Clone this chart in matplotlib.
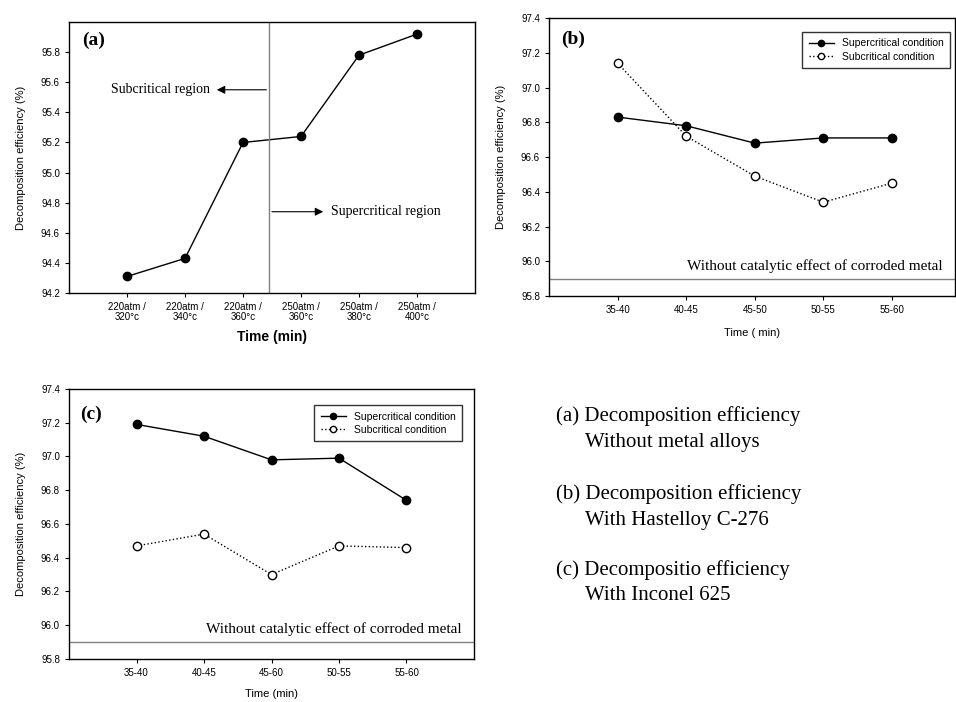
import numpy as np
import matplotlib
matplotlib.use('Agg')
import matplotlib.pyplot as plt

# ---- data ----
labels_a = ['220atm /\n320°c', '220atm /\n340°c', '220atm /\n360°c',
            '250atm /\n360°c', '250atm /\n380°c', '250atm /\n400°c']
eff_a = [94.31, 94.43, 95.20, 95.24, 95.78, 95.92]

labels_b = ['35-40', '40-45', '45-50', '50-55', '55-60']
super_b = [96.83, 96.78, 96.68, 96.71, 96.71]
sub_b = [97.14, 96.72, 96.49, 96.34, 96.45]

labels_c = ['35-40', '40-45', '45-60', '50-55', '55-60']
super_c = [97.19, 97.12, 96.98, 96.99, 96.74]
sub_c = [96.47, 96.54, 96.30, 96.47, 96.46]

baseline = 95.9

note_heads = ['(a) Decomposition efficiency',
              '(b) Decomposition efficiency',
              '(c) Decompositio efficiency']
note_subs = ['Without metal alloys', 'With Hastelloy C-276', 'With Inconel 625']

plt.rcParams['font.family'] = ['Liberation Sans', 'DejaVu Sans']
serif = 'Liberation Serif'

fig = plt.figure(figsize=(9.56, 7.02), dpi=100)

def style(ax):
    ax.tick_params(direction='out', length=3, width=0.8, labelsize=7, top=False, right=False)
    for s in ax.spines.values():
        s.set_linewidth(1.0)

#####################
# panel (a)
#####################
ax = fig.add_axes([0.0722, 0.5826, 0.4247, 0.386])
xa = np.arange(1, len(eff_a) + 1)
ax.plot(xa, eff_a, '-', color='black', lw=1, marker='o', ms=6, mfc='black')
ax.axvline(3.45, color='gray', lw=1)
ax.set_xlim(0, 7)
ax.set_ylim(94.2, 96.0)
ax.set_yticks(np.arange(94.2, 95.81, 0.2))
ax.set_yticklabels(['%.1f' % v for v in np.arange(94.2, 95.81, 0.2)])
ax.set_xticks(xa)
ax.set_xticklabels(labels_a, fontsize=7, linespacing=1.0)
ax.set_xlabel('Time (min)', fontsize=10, fontweight='bold', labelpad=6)
ax.set_ylabel('Decomposition efficiency (%)', fontsize=8, labelpad=11)
style(ax)
ax.text(0.23, 95.85, '(a)', family=serif, fontsize=14, fontweight='bold')
ax.annotate('', xy=(2.5, 95.55), xytext=(3.45, 95.55),
            arrowprops=dict(arrowstyle='-|>', color='black', lw=0.8, mutation_scale=12))
ax.text(2.43, 95.55, 'Subcritical region', family=serif, fontsize=10, ha='right', va='center')
ax.annotate('', xy=(4.43, 94.74), xytext=(3.45, 94.74),
            arrowprops=dict(arrowstyle='-|>', color='black', lw=0.8, mutation_scale=12))
ax.text(4.52, 94.74, 'Supercritical region', family=serif, fontsize=10, ha='left', va='center')

#####################
# panel (b) and (c)
#####################
def two_series(rect, labels, sup, sub, tag, tag_y, xmax, xlab, xpad, leg_anchor):
    ax = fig.add_axes(rect)
    x = np.arange(1, len(labels) + 1)
    ax.plot(x, sup, '-', color='black', lw=1, marker='o', ms=6, mfc='black',
            label='Supercritical condition')
    ax.plot(x, sub, ':', color='black', lw=1, marker='o', ms=6, mfc='white',
            label='Subcritical condition')
    ax.axhline(baseline, color='gray', lw=1)
    ax.text(0.97 * xmax, 95.935, 'Without catalytic effect of corroded metal',
            family=serif, fontsize=11, ha='right', va='bottom')
    ax.set_xlim(0, xmax)
    ax.set_ylim(95.8, 97.4)
    yt = np.arange(95.8, 97.41, 0.2)
    ax.set_yticks(yt)
    ax.set_yticklabels(['%.1f' % v for v in yt])
    ax.set_xticks(x)
    ax.set_xticklabels(labels)
    ax.set_xlabel(xlab, fontsize=8, labelpad=xpad)
    ax.set_ylabel('Decomposition efficiency (%)', fontsize=8, labelpad=11)
    style(ax)
    ax.text(0.17, tag_y, tag, family=serif, fontsize=14, fontweight='bold')
    leg = ax.legend(loc='upper right', fontsize=7.5, frameon=True, fancybox=False,
                    edgecolor='black', handlelength=2.4, markerscale=0.75,
                    borderpad=0.6, labelspacing=0.3, bbox_to_anchor=leg_anchor)
    leg.get_frame().set_linewidth(1.0)
    return ax

two_series([0.5743, 0.5783, 0.4247, 0.396], labels_b, super_b, sub_b, '(b)', 97.25,
           5.92, 'Time ( min)', 9, (1.0, 0.968))
two_series([0.0722, 0.0613, 0.4236, 0.3846], labels_c, super_c, sub_c, '(c)', 97.22,
           6.0, 'Time (min)', 8, (0.983, 0.959))

#####################
# notes
#####################
ys = [416, 494, 570]
for h, s, yp in zip(note_heads, note_subs, ys):
    fig.text(556 / 956, 1 - yp / 702, h, family=serif, fontsize=15, va='center', ha='left')
    fig.text(585 / 956, 1 - (yp + 26) / 702, s, family=serif, fontsize=15, va='center', ha='left')

fig.savefig('out.png', dpi=100)
